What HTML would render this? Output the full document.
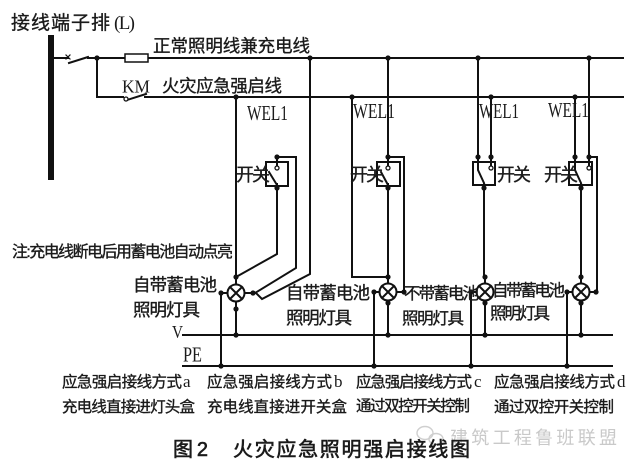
<!DOCTYPE html>
<html><head><meta charset="utf-8"><style>
html,body{margin:0;padding:0;background:#fff;}
svg{display:block;}
.c{font-family:"Liberation Sans","Noto Sans CJK SC",sans-serif;fill:#1a1a1a;stroke:#1a1a1a;stroke-width:0.35;}
.s{font-family:"Liberation Serif",serif;fill:#1a1a1a;}
</style></head><body>
<svg width="637" height="468" viewBox="0 0 637 468" xmlns="http://www.w3.org/2000/svg">
<rect width="637" height="468" fill="#fff"/>
<g stroke="#111" stroke-width="2" fill="none" stroke-linecap="square">
<!-- top lines -->
<path d="M54 58 H68 M69 63 L88 57 M88 58 H623"/>
<path d="M66 55 L70 59 M70 55 L66 59" stroke-width="1.2"/>
<path d="M97 58 V97 H123 M127 100 L146 94 M145 97 H623"/>
<!-- circuit a -->
<path d="M236 97 V277"/>
<path d="M310 58 V274 L262 299 L256 293"/>
<path d="M277 157 H296 V268 L255 293"/>
<path d="M277 157 V165 M277 185 L269 172 M277 184 V188 M277 188 V254 L236 277"/>
<path d="M221 293 V366 M236 309 V335"/>
<!-- circuit b -->
<path d="M352 97 V277 H388"/>
<path d="M388 58 V165 M388 185 L381 172 M388 184 V277"/>
<path d="M388 157 H404 V292 H397"/>
<path d="M374 292 V366 M388 303 V335"/>
<!-- circuit c -->
<path d="M478 58 V170 L484 183 M484 184 V277"/>
<path d="M491 97 V165"/>
<path d="M471 292 V366 M485 303 V335"/>
<!-- circuit d -->
<path d="M575 97 V170 L581 183 M581 184 V277"/>
<path d="M589 58 V165 M589 157 H597 V292 H590"/>
<path d="M567 292 V366 M581 303 V335"/>
<!-- V / PE -->
<path d="M183 335 H612 M183 366 H612"/>
<!-- switch boxes -->
<rect x="266" y="162" width="22" height="24"/>
<rect x="377" y="162" width="23" height="24"/>
<rect x="473" y="162" width="22" height="23"/>
<rect x="569" y="162" width="23" height="23"/>
<!-- lamps -->
<g>
<circle cx="236" cy="293" r="8.5" fill="#fff"/><path d="M230 287 L242 299 M242 287 L230 299 M221 293 H227 M245 293 H255 M236 277 V284 M236 302 V309"/>
<circle cx="388" cy="292" r="8.5" fill="#fff"/><path d="M382 286 L394 298 M394 286 L382 298 M374 292 H379 M388 277 V283 M388 301 V303"/>
<circle cx="485" cy="292" r="8.5" fill="#fff"/><path d="M479 286 L491 298 M491 286 L479 298 M471 292 H476 M485 277 V283 M485 301 V303"/>
<circle cx="581" cy="292" r="8.5" fill="#fff"/><path d="M575 286 L587 298 M587 286 L575 298 M567 292 H572 M581 277 V283 M581 301 V303"/>
</g>
<!-- contact circles -->
<circle cx="126" cy="99" r="2" fill="#fff" stroke-width="1.3"/>
<circle cx="277" cy="168" r="2" fill="#fff" stroke-width="1.3"/>
<circle cx="388" cy="168" r="2" fill="#fff" stroke-width="1.3"/>
<circle cx="491" cy="168" r="2" fill="#fff" stroke-width="1.3"/>
<circle cx="589" cy="168" r="2" fill="#fff" stroke-width="1.3"/>
<!-- fuse -->
<rect x="125" y="54" width="23" height="8" fill="#fff" stroke-width="1.5"/>
</g>
<!-- bus bar -->
<rect x="48" y="35" width="6" height="145" fill="#111"/>
<!-- dots -->
<g fill="#111">
<circle cx="97" cy="58" r="2.6"/><circle cx="310" cy="58" r="2.6"/><circle cx="388" cy="58" r="2.6"/><circle cx="478" cy="58" r="2.6"/><circle cx="589" cy="58" r="2.6"/>
<circle cx="236" cy="97" r="2.6"/><circle cx="352" cy="97" r="2.6"/><circle cx="491" cy="97" r="2.6"/><circle cx="575" cy="97" r="2.6"/>
<circle cx="277" cy="157" r="2.6"/><circle cx="277" cy="188" r="2.6"/>
<circle cx="388" cy="157" r="2.6"/><circle cx="388" cy="188" r="2.6"/>
<circle cx="478" cy="157" r="2.6"/><circle cx="491" cy="157" r="2.6"/><circle cx="484" cy="188" r="2.6"/>
<circle cx="575" cy="157" r="2.6"/><circle cx="589" cy="157" r="2.6"/><circle cx="581" cy="188" r="2.6"/>
<circle cx="236" cy="277" r="2.6"/><circle cx="221" cy="293" r="2.6"/><circle cx="253" cy="293" r="2.6"/><circle cx="236" cy="309" r="2.6"/>
<circle cx="388" cy="277" r="2.6"/><circle cx="374" cy="292" r="2.6"/><circle cx="404" cy="292" r="2.6"/><circle cx="388" cy="303" r="2.6"/>
<circle cx="485" cy="277" r="2.6"/><circle cx="471" cy="292" r="2.6"/><circle cx="485" cy="303" r="2.6"/>
<circle cx="581" cy="277" r="2.6"/><circle cx="567" cy="292" r="2.6"/><circle cx="596" cy="292" r="2.6"/><circle cx="581" cy="303" r="2.6"/>
<circle cx="236" cy="335" r="2.6"/><circle cx="388" cy="335" r="2.6"/><circle cx="485" cy="335" r="2.6"/><circle cx="581" cy="335" r="2.6"/>
<circle cx="221" cy="366" r="2.6"/><circle cx="374" cy="366" r="2.6"/><circle cx="471" cy="366" r="2.6"/><circle cx="567" cy="366" r="2.6"/>
</g>
<!-- text -->
<text class="c" x="11" y="29" font-size="19" textLength="99">接线端子排</text>
<text class="s" x="114" y="29" font-size="19" textLength="21">(L)</text>
<text class="c" x="153" y="52" font-size="17.5" textLength="157">正常照明线兼充电线</text>
<text class="s" x="122" y="92.5" font-size="18" textLength="28" lengthAdjust="spacingAndGlyphs">KM</text>
<text class="c" x="162" y="92" font-size="17.5" textLength="120">火灾应急强启线</text>
<text class="s" x="247" y="120" font-size="21" textLength="41" lengthAdjust="spacingAndGlyphs">WEL1</text>
<text class="s" x="353" y="118" font-size="21" textLength="42" lengthAdjust="spacingAndGlyphs">WEL1</text>
<text class="s" x="479" y="118" font-size="21" textLength="40" lengthAdjust="spacingAndGlyphs">WEL1</text>
<text class="s" x="548" y="117" font-size="21" textLength="41" lengthAdjust="spacingAndGlyphs">WEL1</text>
<text class="c" x="236" y="181" font-size="18" textLength="34">开关</text>
<text class="c" x="350" y="181" font-size="18" textLength="34">开关</text>
<text class="c" x="497" y="181" font-size="18" textLength="34">开关</text>
<text class="c" x="544" y="181" font-size="18" textLength="34">开关</text>
<text class="c" x="12" y="257" font-size="16" textLength="221">注:充电线断电后用蓄电池自动点亮</text>
<text class="c" x="133" y="291" font-size="17.5" textLength="84">自带蓄电池</text>
<text class="c" x="133" y="316" font-size="17.5" textLength="67">照明灯具</text>
<text class="c" x="286" y="299" font-size="17.5" textLength="84">自带蓄电池</text>
<text class="c" x="286" y="324" font-size="17.5" textLength="66">照明灯具</text>
<text class="c" x="404" y="299" font-size="16.5" textLength="75">不带蓄电池</text>
<text class="c" x="402" y="324" font-size="16.5" textLength="62">照明灯具</text>
<text class="c" x="492" y="296" font-size="16.5" textLength="73">自带蓄电池</text>
<text class="c" x="490" y="319" font-size="16.5" textLength="60">照明灯具</text>
<text class="s" x="172" y="338" font-size="18" textLength="11" lengthAdjust="spacingAndGlyphs">V</text>
<text class="s" x="183" y="361.5" font-size="21" textLength="19" lengthAdjust="spacingAndGlyphs">PE</text>
<text class="c" x="62" y="387" font-size="15.5" textLength="120">应急强启接线方式</text>
<text class="s" x="183" y="387" font-size="17">a</text>
<text class="c" x="62" y="412" font-size="15.5" textLength="133">充电线直接进灯头盒</text>
<text class="c" x="207" y="387" font-size="15.5" textLength="125">应急强启接线方式</text>
<text class="s" x="334" y="387" font-size="17">b</text>
<text class="c" x="207" y="412" font-size="15.5" textLength="140">充电线直接进开关盒</text>
<text class="c" x="356" y="387" font-size="15.5" textLength="116">应急强启接线方式</text>
<text class="s" x="474" y="387" font-size="17">c</text>
<text class="c" x="356" y="411" font-size="15.5" textLength="114">通过双控开关控制</text>
<text class="c" x="494" y="387" font-size="15.5" textLength="121">应急强启接线方式</text>
<text class="s" x="617" y="387" font-size="17">d</text>
<text class="c" x="494" y="412" font-size="15.5" textLength="120">通过双控开关控制</text>
<!-- watermark -->
<g stroke="#cfcfcf" stroke-width="1.4" fill="none">
<ellipse cx="425" cy="433" rx="8" ry="6.5"/>
<ellipse cx="436" cy="439" rx="7" ry="5.5"/>
</g>
<text x="450" y="444" font-size="18" textLength="167" style="font-family:'Liberation Sans','Noto Sans CJK SC',sans-serif;fill:#c9c9c9;">建筑工程鲁班联盟</text>
<!-- caption -->
<text class="c" x="173" y="456" font-size="20" textLength="35" style="stroke-width:0.6">图2</text>
<text class="c" x="233" y="456" font-size="20" textLength="237" style="stroke-width:0.6">火灾应急照明强启接线图</text>
</svg>
</body></html>
